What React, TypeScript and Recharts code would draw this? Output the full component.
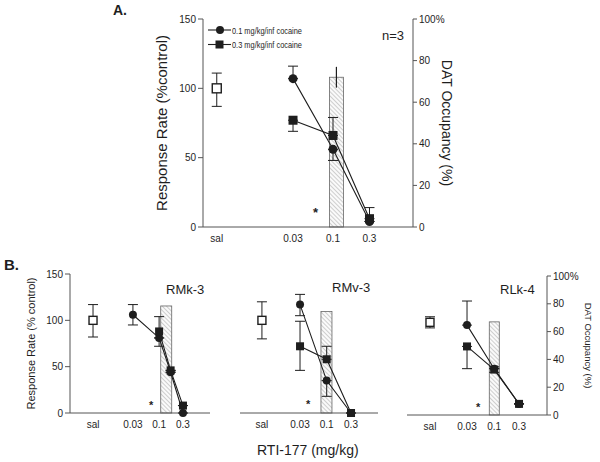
import React from 'react';
import { ComposedChart, Line, Bar, XAxis, YAxis, ErrorBar } from 'recharts';

// x tick labels (saline + RTI-177 doses, mg/kg)
const doseLabels = ['sal', '0.03', '0.1', '0.3'];
const doses = [0.03, 0.1, 0.3];

// Panel A (n=3)
const aSaline = 100;
const aSalineErr = [13, 11];
const aCircle = [107, 56, 4];
const aCircleErr = [[0, 9], [8, 0], [0, 0]];
const aSquare = [77, 66, 6];
const aSquareErr = [[8, 0], [0, 13], [0, 8]];
const aDatDose = 0.11;
const aDat = 72;
const aDatErr = [5, 5];

// Panel B, RMk-3
const b1Saline = 100;
const b1SalineErr = [18, 17];
const b1CircleDoses = [0.03, 0.1, 0.17, 0.3];
const b1Circle = [106, 81, 44, 0];
const b1CircleErr = [[11, 11], [0, 0], [0, 0], [0, 0]];
const b1SquareDoses = [0.1, 0.17, 0.3];
const b1Square = [88, 46, 8];
const b1SquareErr = [[16, 16], [0, 0], [0, 0]];
const b1DatDose = 0.14;
const b1Dat = 77;

// Panel B, RMv-3
const b2Saline = 100;
const b2SalineErr = [20, 20];
const b2Circle = [117, 35, 0];
const b2CircleErr = [[12, 11], [17, 0], [0, 0]];
const b2Square = [72, 58, 0];
const b2SquareErr = [[26, 27], [0, 14], [0, 0]];
const b2DatDose = 0.1;
const b2Dat = 73;

// Panel B, RLk-4
const b3Saline = 100;
const b3SalineErr = [6, 6];
const b3Circle = [97, 50, 12];
const b3CircleErr = [[0, 26], [0, 0], [0, 0]];
const b3Square = [74, 49, 12];
const b3SquareErr = [[24, 0], [3, 3], [0, 0]];
const b3DatDose = 0.1;
const b3Dat = 67;

const INK = '#1e1e1e';
const AXIS = '#555';

const rows = (ds: number[], vals: number[], errs: number[][]) =>
  ds.map((d, i) => ({ x: Math.log10(d), y: vals[i], err: errs[i] }));

const circleDot = (r: number) => (p: any) =>
  p.cx == null ? <g key={`c${p.index}`} /> : <circle key={`c${p.index}`} cx={p.cx} cy={p.cy} r={r} fill={INK} />;

const squareDot = (s: number, open = false) => (p: any) =>
  p.cx == null ? (
    <g key={`s${p.index}`} />
  ) : (
    <rect
      key={`s${p.index}`}
      x={p.cx - s / 2}
      y={p.cy - s / 2}
      width={s}
      height={s}
      fill={open ? '#fff' : INK}
      stroke={INK}
      strokeWidth={open ? 1.4 : 0}
    />
  );

interface PanelCfg {
  id: string;
  left: number;
  top: number;
  width: number;
  height: number;
  margin: { top: number; right: number; bottom: number; left: number };
  domain: [number, number];
  salPos: number;
  leftWidth: number;
  leftMode: 'full' | 'ticks' | 'none';
  rightWidth: number;
  rightLabels: boolean;
  marker: number;
  barSize: number;
  capWidth: number;
  yLabel?: { text: string; offset: number; size: number };
  rLabel?: { text: string; offset: number; size: number };
}

interface PanelProps {
  cfg: PanelCfg;
  sal: number;
  salErr: number[];
  circle: any[];
  square: any[];
  datDose: number;
  dat: number;
  datErr?: number[];
}

function Panel({ cfg, sal, salErr, circle, square, datDose, dat, datErr }: PanelProps) {
  const ticks = [cfg.salPos, ...doses.map((d) => Math.log10(d))];
  const fmt = (v: number) => {
    const i = ticks.findIndex((t) => Math.abs(t - v) < 1e-6);
    return i >= 0 ? doseLabels[i] : '';
  };
  const barData = [{ x: Math.log10(datDose), dat, datErr: datErr || [0, 0] }];
  const salData = [{ x: cfg.salPos, y: sal, err: salErr }];
  const tickStyle = { fontSize: 10, fill: INK };

  // hatched DAT bar, fixed width centred on its dose
  const barShape = (p: any) => {
    const cx = p.x + p.width / 2;
    return (
      <rect
        x={cx - cfg.barSize / 2}
        y={p.y}
        width={cfg.barSize}
        height={p.height}
        fill={`url(#hatch-${cfg.id})`}
        stroke="#666"
        strokeWidth={0.8}
      />
    );
  };

  return (
    <div style={{ position: 'absolute', left: cfg.left, top: cfg.top }}>
      <ComposedChart width={cfg.width} height={cfg.height} data={barData} margin={cfg.margin}>
        <defs>
          <pattern id={`hatch-${cfg.id}`} width="3" height="3" patternUnits="userSpaceOnUse" patternTransform="rotate(-45)">
            <rect width="3" height="3" fill="#fafafa" />
            <line x1="0" y1="0" x2="0" y2="3" stroke="#9a9a9a" strokeWidth="0.9" />
          </pattern>
        </defs>
        <XAxis
          dataKey="x"
          type="number"
          domain={cfg.domain}
          allowDataOverflow
          ticks={ticks}
          tickFormatter={fmt}
          tickLine={false}
          height={17}
          tick={tickStyle}
          stroke={AXIS}
          interval={0}
        />
        <XAxis xAxisId="top" orientation="top" type="number" domain={cfg.domain} allowDataOverflow height={0} tick={false} tickLine={false} stroke={AXIS} />
        <YAxis
          yAxisId="rate"
          domain={[0, 150]}
          ticks={[0, 50, 100, 150]}
          width={cfg.leftWidth}
          stroke={AXIS}
          tick={cfg.leftMode === 'full' ? tickStyle : cfg.leftMode === 'ticks' ? { fontSize: 0 } : false}
          tickLine={cfg.leftMode !== 'none'}
          tickSize={cfg.leftMode === 'ticks' ? 3 : 5}
          label={
            cfg.yLabel
              ? {
                  value: cfg.yLabel.text,
                  angle: -90,
                  position: 'insideLeft',
                  offset: cfg.yLabel.offset,
                  style: { textAnchor: 'middle', fontSize: cfg.yLabel.size, fill: INK },
                }
              : undefined
          }
        />
        <YAxis
          yAxisId="dat"
          orientation="right"
          domain={[0, 100]}
          ticks={[0, 20, 40, 60, 80, 100]}
          tickFormatter={(v: number) => (v === 100 ? '100%' : String(v))}
          width={cfg.rightWidth}
          stroke={AXIS}
          tick={cfg.rightLabels ? tickStyle : false}
          tickLine={cfg.rightLabels}
          tickSize={4}
          label={
            cfg.rLabel
              ? {
                  value: cfg.rLabel.text,
                  angle: 90,
                  position: 'insideRight',
                  offset: cfg.rLabel.offset,
                  style: { textAnchor: 'middle', fontSize: cfg.rLabel.size, fill: INK },
                }
              : undefined
          }
        />
        <Bar yAxisId="dat" dataKey="dat" shape={barShape} isAnimationActive={false}>
          {datErr ? <ErrorBar dataKey="datErr" width={0} stroke={INK} strokeWidth={1.2} /> : null}
        </Bar>
        <Line
          yAxisId="rate"
          data={circle}
          dataKey="y"
          stroke={INK}
          strokeWidth={1.1}
          dot={circleDot(cfg.marker / 2)}
          activeDot={false}
          isAnimationActive={false}
        >
          <ErrorBar dataKey="err" width={cfg.capWidth} stroke={INK} strokeWidth={1} />
        </Line>
        <Line
          yAxisId="rate"
          data={square}
          dataKey="y"
          stroke={INK}
          strokeWidth={1.1}
          dot={squareDot(cfg.marker)}
          activeDot={false}
          isAnimationActive={false}
        >
          <ErrorBar dataKey="err" width={cfg.capWidth} stroke={INK} strokeWidth={1} />
        </Line>
        <Line
          yAxisId="rate"
          data={salData}
          dataKey="y"
          stroke="none"
          dot={squareDot(cfg.marker, true)}
          activeDot={false}
          isAnimationActive={false}
        >
          <ErrorBar dataKey="err" width={cfg.capWidth} stroke={INK} strokeWidth={1} />
        </Line>
      </ComposedChart>
    </div>
  );
}

const cfgA: PanelCfg = {
  id: 'a',
  left: 140,
  top: 0,
  width: 330,
  height: 247,
  margin: { top: 19, right: 0, bottom: 3, left: 0 },
  domain: [-2.7, 0.046],
  salPos: -2.52,
  leftWidth: 63,
  leftMode: 'full',
  rightWidth: 57,
  rightLabels: true,
  marker: 9,
  barSize: 14,
  capWidth: 5,
  yLabel: { text: 'Response Rate (%control)', offset: 22, size: 15 },
  rLabel: { text: 'DAT Occupancy (%)', offset: 23, size: 14 },
};

const cfgB1: PanelCfg = {
  id: 'b1',
  left: 0,
  top: 255,
  width: 215,
  height: 175,
  margin: { top: 19, right: 5, bottom: 0, left: 0 },
  domain: [-2.78, 0.017],
  salPos: -2.32,
  leftWidth: 70,
  leftMode: 'full',
  rightWidth: 0,
  rightLabels: false,
  marker: 8,
  barSize: 11,
  capWidth: 5,
  yLabel: { text: 'Response Rate (% control)', offset: 31, size: 11 },
};

const cfgB2: PanelCfg = {
  id: 'b2',
  left: 225,
  top: 255,
  width: 160,
  height: 175,
  margin: { top: 19, right: 7, bottom: 0, left: 15 },
  domain: [-2.7, 0.006],
  salPos: -2.27,
  leftWidth: 0,
  leftMode: 'none',
  rightWidth: 0,
  rightLabels: false,
  marker: 8,
  barSize: 11,
  capWidth: 5,
};

const cfgB3: PanelCfg = {
  id: 'b3',
  left: 395,
  top: 257,
  width: 205,
  height: 175,
  margin: { top: 19, right: 0, bottom: 0, left: 12 },
  domain: [-2.677, 0.015],
  salPos: -2.235,
  leftWidth: 0,
  leftMode: 'ticks',
  rightWidth: 53,
  rightLabels: true,
  marker: 8,
  barSize: 10,
  capWidth: 5,
  rLabel: { text: 'DAT Occupancy (%)', offset: 12, size: 9.5 },
};

function LegendA() {
  const items = [
    { label: '0.1 mg/kg/inf cocaine', sq: false },
    { label: '0.3 mg/kg/inf cocaine', sq: true },
  ];
  return (
    <svg width={150} height={32} style={{ position: 'absolute', left: 205, top: 21 }}>
      {items.map((it, i) => {
        const y = 9 + i * 14.5;
        return (
          <g key={it.label}>
            <line x1={3} x2={26} y1={y} y2={y} stroke={INK} strokeWidth={1.1} />
            {it.sq ? (
              <rect x={10.5} y={y - 4} width={8} height={8} fill={INK} />
            ) : (
              <circle cx={15} cy={y} r={4} fill={INK} />
            )}
            <text x={27} y={y + 3.5} fontSize={9.5} fill={INK} textLength={70} lengthAdjust="spacingAndGlyphs">
              {it.label}
            </text>
          </g>
        );
      })}
    </svg>
  );
}

const txt = (style: React.CSSProperties): React.CSSProperties => ({
  position: 'absolute',
  color: INK,
  lineHeight: 1,
  whiteSpace: 'nowrap',
  ...style,
});

export default function App() {
  return (
    <div
      style={{
        position: 'absolute',
        left: 0,
        top: 0,
        width: 600,
        height: 462,
        background: '#fff',
        fontFamily: "Arial, 'Liberation Sans', Helvetica, sans-serif",
        overflow: 'hidden',
      }}
    >
      <Panel
        cfg={cfgA}
        sal={aSaline}
        salErr={aSalineErr}
        circle={rows(doses, aCircle, aCircleErr)}
        square={rows(doses, aSquare, aSquareErr)}
        datDose={aDatDose}
        dat={aDat}
        datErr={aDatErr}
      />
      <Panel
        cfg={cfgB1}
        sal={b1Saline}
        salErr={b1SalineErr}
        circle={rows(b1CircleDoses, b1Circle, b1CircleErr)}
        square={rows(b1SquareDoses, b1Square, b1SquareErr)}
        datDose={b1DatDose}
        dat={b1Dat}
      />
      <Panel
        cfg={cfgB2}
        sal={b2Saline}
        salErr={b2SalineErr}
        circle={rows(doses, b2Circle, b2CircleErr)}
        square={rows(doses, b2Square, b2SquareErr)}
        datDose={b2DatDose}
        dat={b2Dat}
      />
      <Panel
        cfg={cfgB3}
        sal={b3Saline}
        salErr={b3SalineErr}
        circle={rows(doses, b3Circle, b3CircleErr)}
        square={rows(doses, b3Square, b3SquareErr)}
        datDose={b3DatDose}
        dat={b3Dat}
      />
      <LegendA />
      <div style={txt({ left: 113, top: 3, fontSize: 14, fontWeight: 'bold' })}>A.</div>
      <div style={txt({ left: 382, top: 29, fontSize: 13 })}>n=3</div>
      <div style={txt({ left: 313, top: 206, fontSize: 13, fontWeight: 'bold' })}>*</div>
      <div style={txt({ left: 4, top: 257, fontSize: 15, fontWeight: 'bold' })}>B.</div>
      <div style={txt({ left: 166, top: 283, fontSize: 13 })}>RMk-3</div>
      <div style={txt({ left: 332, top: 281, fontSize: 13 })}>RMv-3</div>
      <div style={txt({ left: 500, top: 283, fontSize: 13 })}>RLk-4</div>
      <div style={txt({ left: 149, top: 400, fontSize: 11, fontWeight: 'bold' })}>*</div>
      <div style={txt({ left: 306, top: 399, fontSize: 11, fontWeight: 'bold' })}>*</div>
      <div style={txt({ left: 476, top: 402, fontSize: 11, fontWeight: 'bold' })}>*</div>
      <div style={txt({ left: 257, top: 443, fontSize: 14 })}>RTI-177 (mg/kg)</div>
    </div>
  );
}
